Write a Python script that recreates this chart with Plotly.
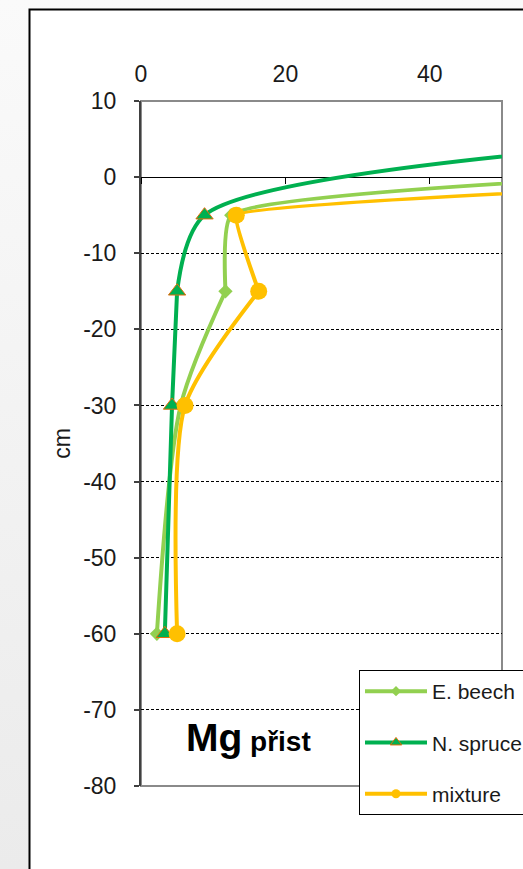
import base64
import plotly.graph_objects as go

# Soil profile: available Mg by depth for three stand types
DEPTHS = [4, -5, -15, -30, -60]
BEECH = [174, 12.5, 11.7, 5.5, 2.2]
SPRUCE = [64, 8.8, 5.0, 4.3, 3.3]
MIXTURE = [210, 13.2, 16.3, 6.1, 5.0]

SERIES_NAMES = ["E. beech", "N. spruce", "mixture"]
X_TICKS = [0, 20, 40]
Y_TICKS = [10, 0, -10, -20, -30, -40, -50, -60, -70, -80]

FONT = "Liberation Sans, Arial, sans-serif"
W, H = 523, 869
ML, MR, MT, MB = 141, 21, 101, 83
PW, PH = W - ML - MR, H - MT - MB

# the profile curve is smoothed in two parts that meet at the -15 cm sample
SPLIT = 2

styles = [
    dict(color="#92D050", symbol="diamond", size=11, lcolor="#92D050", lw=0,
         legsize=8, smooth_top=0.4, smooth_low=0.8),
    dict(color="#00B050", symbol="triangle-up", size=15, lcolor="#E46C0A", lw=1,
         legsize=10, smooth_top=0.8, smooth_low=0.8),
    dict(color="#FFC000", symbol="circle", size=17, lcolor="#FFC000", lw=0,
         legsize=9, smooth_top=0.2, smooth_low=0.7),
]
values = [BEECH, SPRUCE, MIXTURE]

fig = go.Figure()

for name, xs, st in zip(SERIES_NAMES, values, styles):
    parts = [
        (xs[:SPLIT + 1], DEPTHS[:SPLIT + 1], st["smooth_top"]),
        (xs[SPLIT:], DEPTHS[SPLIT:], st["smooth_low"]),
    ]
    for px_, py_, sm in parts:
        fig.add_trace(go.Scatter(
            x=px_, y=py_, mode="lines", name=name, showlegend=False,
            line=dict(color=st["color"], width=4, shape="spline", smoothing=sm),
            hoverinfo="skip", cliponaxis=True,
        ))
    fig.add_trace(go.Scatter(
        x=xs, y=DEPTHS, mode="markers", name=name, showlegend=False,
        marker=dict(symbol=st["symbol"], size=st["size"], color=st["color"],
                    line=dict(color=st["lcolor"], width=st["lw"])),
        cliponaxis=True,
    ))

# legend entries with smaller symbols
for i, (name, st) in enumerate(zip(SERIES_NAMES, styles)):
    fig.add_trace(go.Scatter(
        x=[None], y=[None], mode="lines+markers", name=name, xaxis="x2",
        legendgroup=f"g{i}",
        line=dict(color=st["color"], width=4),
        marker=dict(symbol=st["symbol"], size=st["legsize"], color=st["color"],
                    line=dict(color=st["lcolor"], width=st["lw"])),
    ))

# soft vertical gradient for the page background
svg = (
    '<svg xmlns="http://www.w3.org/2000/svg" width="100" height="100" '
    'viewBox="0 0 100 100" preserveAspectRatio="none">'
    '<defs><linearGradient id="g" x1="0" y1="0" x2="0" y2="1">'
    '<stop offset="0" stop-color="#fafafa"/><stop offset="1" stop-color="#ebebeb"/>'
    '</linearGradient></defs><rect width="100" height="100" fill="url(#g)"/></svg>'
)
bg_src = "data:image/svg+xml;base64," + base64.b64encode(svg.encode()).decode()


def px_x(p):
    return (p - ML) / PW


def px_y(p):
    return (H - MB - p) / PH


fig.add_layout_image(dict(
    source=bg_src, xref="paper", yref="paper",
    x=px_x(0), y=px_y(0), sizex=W / PW, sizey=H / PH,
    xanchor="left", yanchor="top", sizing="stretch", layer="below",
))

# white slide panel and plot frame
fig.add_shape(type="rect", xref="paper", yref="paper",
              x0=px_x(29.5), x1=px_x(560), y0=px_y(900), y1=px_y(9.5),
              fillcolor="white", line=dict(color="black", width=2), layer="below")
fig.add_shape(type="rect", xref="paper", yref="paper",
              x0=0, x1=1, y0=0, y1=1,
              line=dict(color="#8a8a8a", width=2), layer="below")

fig.add_annotation(
    xref="paper", yref="paper", x=px_x(184), y=px_y(737),
    xanchor="left", yanchor="middle", showarrow=False,
    text='<b>Mg</b><b><span style="font-size:28px"> přist</span></b>',
    font=dict(family=FONT, size=39, color="black"),
)

fig.update_layout(
    width=W, height=H,
    margin=dict(l=ML, r=MR, t=MT, b=MB, autoexpand=False),
    paper_bgcolor="white", plot_bgcolor="rgba(0,0,0,0)",
    font=dict(family=FONT, color="#1a1a1a"),
    xaxis=dict(
        side="top", range=[0, 50], tickvals=X_TICKS,
        ticktext=[str(v) for v in X_TICKS], ticks="",
        ticklabelstandoff=13, tickfont=dict(size=23),
        showgrid=False, zeroline=False, showline=False, fixedrange=True,
    ),
    xaxis2=dict(
        overlaying="x", anchor="free", position=px_y(177), side="bottom",
        range=[0, 50], tickvals=X_TICKS, ticks="outside", ticklen=6,
        tickcolor="black", tickwidth=1, showticklabels=False,
        showgrid=False, zeroline=False, showline=False,
    ),
    yaxis=dict(
        range=[-80, 10], tickvals=Y_TICKS,
        ticktext=[str(v) for v in Y_TICKS],
        ticks="outside", ticklen=5,
        tickcolor="#404040", tickwidth=1.5, tickfont=dict(size=23),
        ticklabelstandoff=13,
        showline=True, linecolor="#404040", linewidth=2,
        showgrid=True, gridcolor="black", gridwidth=1, griddash="3px,2px",
        zeroline=True, zerolinecolor="black", zerolinewidth=1,
        title=dict(text="cm", font=dict(size=23), standoff=6),
    ),
    legend=dict(
        x=px_x(359), y=px_y(670), xanchor="left", yanchor="top",
        bgcolor="white", bordercolor="black", borderwidth=1,
        font=dict(size=21, family=FONT, color="#1a1a1a"),
        traceorder="grouped", tracegroupgap=21, itemwidth=62,
    ),
)

fig.write_html("out.html")
